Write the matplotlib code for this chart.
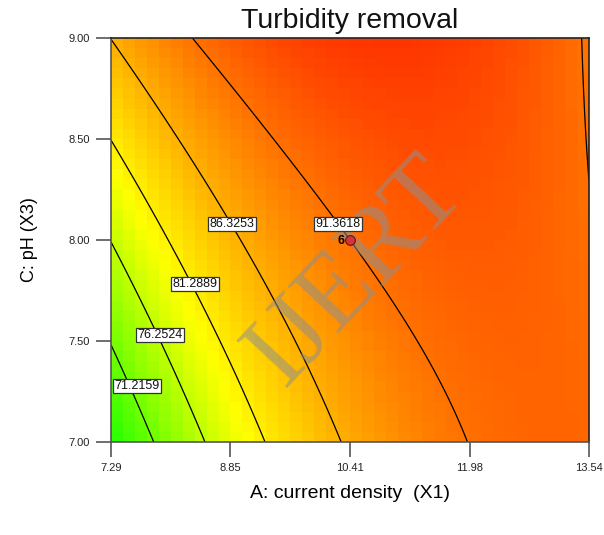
import numpy as np
import matplotlib
matplotlib.use("Agg")
import matplotlib.pyplot as plt
from matplotlib.colors import LinearSegmentedColormap, Normalize

plt.rcParams['font.family'] = ['Liberation Sans', 'DejaVu Sans']

# Factor ranges and tick labels
x_ticks = [7.29, 8.85, 10.41, 11.98, 13.54]
y_ticks = [7.00, 7.50, 8.00, 8.50, 9.00]
x_center, x_half = 10.415, 3.125
y_center, y_half = 8.0, 1.0

# Quadratic response model in coded units (A = current density, C = pH)
b_const = 91.36
b_A, b_C = 7.6, 4.645
b_AA, b_CC = -7.41, 0.095
b_AC = -5.3

# Contour levels and their label positions
levels = [71.2159, 76.2524, 81.2889, 86.3253, 91.3618]
label_x = [7.63, 7.93, 8.388, 8.872, 10.258]
label_y = [7.277, 7.53, 7.782, 8.079, 8.079]

# Design point (centre run, 6 replicates)
pt_x, pt_y, pt_count = 10.41, 8.00, 6


def response(x1, x3):
    a = (x1 - x_center) / x_half
    c = (x3 - y_center) / y_half
    return (b_const + b_A * a + b_C * c + b_AA * a ** 2 + b_CC * c ** 2
            + b_AC * a * c)


fig = plt.figure(figsize=(6.04, 5.35), dpi=100)
ax = fig.add_axes([0.1838, 0.1738, 0.7912, 0.7552])

x0, x1 = x_ticks[0], x_ticks[-1]
y0, y1 = y_ticks[0], y_ticks[-1]

# Coarse colour blocks
nx, ny = 40, 40
xe = np.linspace(x0, x1, nx + 1)
ye = np.linspace(y0, y1, ny + 1)
xc = 0.5 * (xe[:-1] + xe[1:])
yc = 0.5 * (ye[:-1] + ye[1:])
XC, YC = np.meshgrid(xc, yc)
cmap = LinearSegmentedColormap.from_list(
    "gyr", [(0.0, "#00ff00"), (0.43, "#ffff00"), (1.0, "#ff0000")])
norm = Normalize(vmin=64.5, vmax=100.5)
ax.pcolormesh(xe, ye, response(XC, YC), cmap=cmap, norm=norm,
              shading="flat", zorder=1)

# Smooth contour lines
xf = np.linspace(x0, x1, 400)
yf = np.linspace(y0, y1, 400)
XF, YF = np.meshgrid(xf, yf)
ax.contour(XF, YF, response(XF, YF), levels=levels, colors="black",
           linewidths=0.9, zorder=2)

for lv, lx, ly in zip(levels, label_x, label_y):
    ax.text(lx, ly, f"{lv:.4f}", fontsize=9, ha="center", va="center",
            zorder=4, color="#111111",
            bbox=dict(boxstyle="square,pad=0.1", fc="white", ec="#333333",
                      lw=0.9))

# Watermark
ax.text(10.5, 7.84, "IJERT", fontsize=76, family=["Liberation Serif",
        "DejaVu Serif"], color="#8f8f8f", alpha=0.55, rotation=47,
        ha="center", va="center", zorder=3)

ax.plot([pt_x], [pt_y], "o", ms=7, mfc="#d8323c", mec="#6a1010", mew=0.8,
        zorder=5)
ax.text(pt_x - 0.07, pt_y - 0.005, str(pt_count), fontsize=9,
        fontweight="bold", ha="right", va="center", zorder=5)

ax.set_xlim(x0, x1)
ax.set_ylim(y0, y1)
ax.set_xticks(x_ticks)
ax.set_xticklabels([f"{v:.2f}" for v in x_ticks])
ax.set_yticks(y_ticks)
ax.set_yticklabels([f"{v:.2f}" for v in y_ticks])
ax.tick_params(axis="both", direction="out", length=11, width=1.2,
               color="#555555", labelsize=8, labelcolor="#222222", pad=4)
for s in ax.spines.values():
    s.set_linewidth(1.2)
    s.set_color("#222222")
ax.spines["left"].set_color("#555555")
ax.spines["bottom"].set_color("#555555")

ax.set_title("Turbidity removal", fontsize=20.5, pad=7, color="#111111")
ax.set_xlabel("A: current density  (X1)", fontsize=14, labelpad=9)
ax.set_ylabel("C: pH (X3)", fontsize=13, labelpad=22)

fig.savefig("out.png", dpi=100)
